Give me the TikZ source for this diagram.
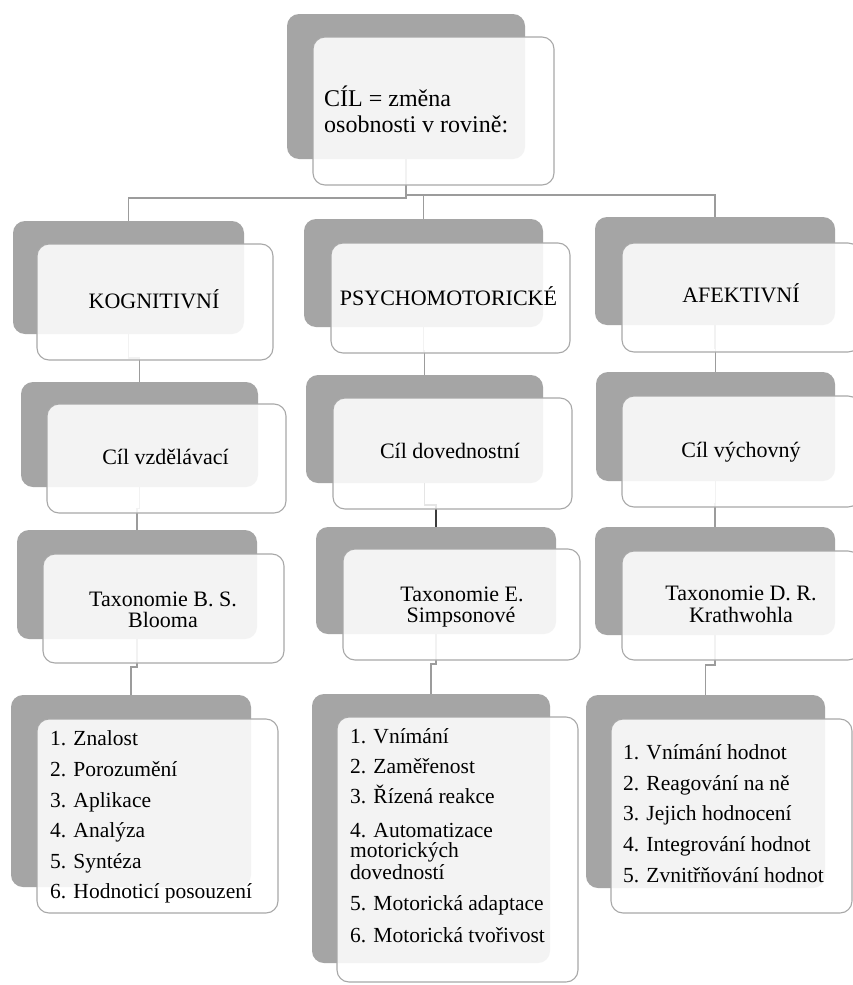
\documentclass[tikz,border=0pt]{standalone}
\usepackage{fontspec}
\setmainfont{Liberation Serif}
\usetikzlibrary{calc}
\definecolor{backgrey}{HTML}{A5A5A5}
\definecolor{framegrey}{HTML}{A8A8A8}
\definecolor{linegrey}{HTML}{9C9C9C}
\definecolor{darkline}{HTML}{3C3C3C}
\newcommand{\bx}[6]{\node[#2, minimum width={#5-#3}, minimum height={#6-#4}] (#1) at ({(#3+#5)/2},{(#4+#6)/2}) {};}
\newcommand{\elb}[3][]{\draw[conn,#1] (#2.south) |- ($(#2.south)!.5!(#3.north)$) -| (#3.north);}
\tikzset{
  backbox/.style={rectangle, rounded corners=12pt, fill=backgrey, draw=none, inner sep=0pt},
  frontbox/.style={rectangle, rounded corners=12pt, fill=white, fill opacity=0.87, draw=framegrey, line width=1.1pt, inner sep=0pt},
  conn/.style={draw=linegrey, line width=1.3pt},
  ttl/.style={anchor=base, inner sep=0pt, font=\fontsize{22}{22}\selectfont},
  topt/.style={anchor=base west, inner sep=0pt, font=\fontsize{24}{26}\selectfont},
  lst/.style={anchor=base west, inner sep=0pt, font=\fontsize{21.5}{21.5}\selectfont}
}
\begin{document}
\begin{tikzpicture}[x=1pt,y=-1pt]
\useasboundingbox[fill=white] (0,0) rectangle (853,985);
% back boxes
\bx{topb}{backbox}{287}{14}{525}{159}
\bx{kb}{backbox}{13}{221}{244}{334}
\bx{pb}{backbox}{304}{219}{543}{327}
\bx{ab}{backbox}{595}{217}{835}{325}
\bx{kcb}{backbox}{21}{382}{258}{487}
\bx{pcb}{backbox}{306}{375}{543}{483}
\bx{acb}{backbox}{596}{372}{835}{481}
\bx{ktb}{backbox}{17}{530}{257}{639}
\bx{ptb}{backbox}{316}{527}{556}{634}
\bx{atb}{backbox}{595}{527}{835}{635}
\bx{klb}{backbox}{11}{695}{251}{887}
\bx{plb}{backbox}{312}{694}{550}{963}
\bx{alb}{backbox}{586}{695}{825}{888}
% connectors
\coordinate (j1) at (406,198);
\coordinate (j2) at (406,195);
\draw[conn] (topb.south) -- (j1) -| (kb.north);
\draw[conn] (j1) -- (j2) -| (pb.north);
\draw[conn] (j2) -| (ab.north);
\elb{kb}{kcb}
\elb{pb}{pcb}
\elb{ab}{acb}
\elb{kcb}{ktb}
\elb[draw=darkline]{pcb}{ptb}
\elb{acb}{atb}
\elb{ktb}{klb}
\elb{ptb}{plb}
\elb{atb}{alb}
% front boxes
\bx{topf}{frontbox}{313}{37}{554}{185}
\bx{kf}{frontbox}{37}{244}{273}{360}
\bx{pf}{frontbox}{331}{243}{570}{353}
\bx{af}{frontbox}{622}{243}{860}{352}
\bx{kcf}{frontbox}{47}{404}{286}{513}
\bx{pcf}{frontbox}{333}{398}{572}{509}
\bx{acf}{frontbox}{622}{396}{860}{507}
\bx{ktf}{frontbox}{43}{554}{284}{663}
\bx{ptf}{frontbox}{343}{549}{580}{660}
\bx{atf}{frontbox}{622}{551}{860}{660}
\bx{klf}{frontbox}{37}{719}{278}{913}
\bx{plf}{frontbox}{337}{717}{578}{982}
\bx{alf}{frontbox}{611}{719}{852}{913}
% texts
\node[topt] (t1) at (324,106) {CÍL = změna};
\node[topt] (t2) at (324,132) {osobnosti v rovině:};
\node[ttl] (k1) at (154,308) {KOGNITIVNÍ};
\node[ttl] (p1) at (448.5,305) {PSYCHOMOTORICKÉ};
\node[ttl] (a1) at (741,302) {AFEKTIVNÍ};
\node[ttl] (k2) at (165.5,464) {Cíl vzdělávací};
\node[ttl] (p2) at (450,458) {Cíl dovednostní};
\node[ttl] (a2) at (741,457) {Cíl výchovný};
\node[ttl] (k3a) at (163,606) {Taxonomie B. S.};
\node[ttl] (k3b) at (163,627) {Blooma};
\node[ttl] (p3a) at (462,601) {Taxonomie E.};
\node[ttl] (p3b) at (461,622) {Simpsonové};
\node[ttl] (a3a) at (741,600) {Taxonomie D. R.};
\node[ttl] (a3b) at (741,622) {Krathwohla};
% lists
\node[lst] (kl1) at (50,745) {1. Znalost};
\node[lst] (kl2) at (50,776) {2. Porozumění};
\node[lst] (kl3) at (50,807) {3. Aplikace};
\node[lst] (kl4) at (50,837) {4. Analýza};
\node[lst] (kl5) at (50,868) {5. Syntéza};
\node[lst] (kl6) at (50,898) {6. Hodnoticí posouzení};
\node[lst] (pl1) at (350,743) {1. Vnímání};
\node[lst] (pl2) at (350,773) {2. Zaměřenost};
\node[lst] (pl3) at (350,803) {3. Řízená reakce};
\node[lst] (pl4) at (350,837) {4. Automatizace};
\node[lst] (pl4b) at (350,857) {motorických};
\node[lst] (pl4c) at (350,879) {dovedností};
\node[lst] (pl5) at (350,910) {5. Motorická adaptace};
\node[lst] (pl6) at (350,942) {6. Motorická tvořivost};
\node[lst] (al1) at (623,759) {1. Vnímání hodnot};
\node[lst] (al2) at (623,790) {2. Reagování na ně};
\node[lst] (al3) at (623,820) {3. Jejich hodnocení};
\node[lst] (al4) at (623,851) {4. Integrování hodnot};
\node[lst] (al5) at (623,882) {5. Zvnitřňování hodnot};
\end{tikzpicture}
\end{document}
